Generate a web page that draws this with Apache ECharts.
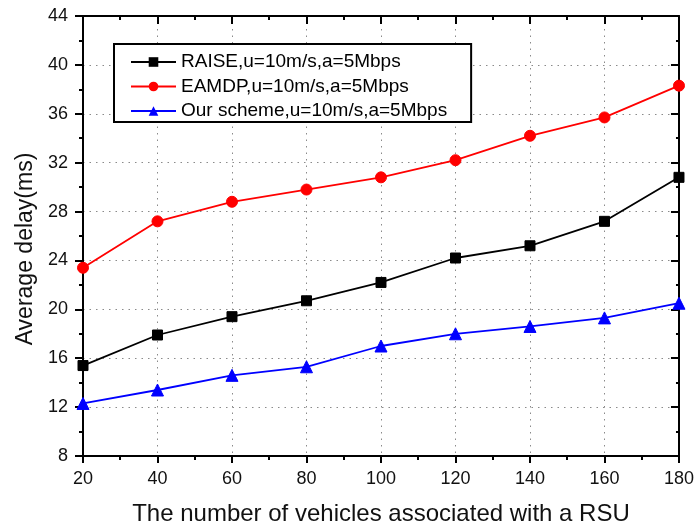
<!DOCTYPE html>
<html>
<head>
<meta charset="utf-8">
<script src="https://cdn.jsdelivr.net/npm/echarts@6/dist/echarts.min.js"></script>
<style>
  html, body { margin: 0; padding: 0; background: #fff; }
  #chart { width: 697px; height: 531px; }
</style>
</head>
<body>
<div id="chart"></div>
<script>
// Number of vehicles associated with one RSU
const vehicles = [20, 40, 60, 80, 100, 120, 140, 160, 180];

// Average delay (ms) per scheme
const raiseDelay = [15.4, 17.9, 19.4, 20.7, 22.2, 24.2, 25.2, 27.2, 30.8];
const eamdpDelay = [23.4, 27.2, 28.8, 29.8, 30.8, 32.2, 34.2, 35.7, 38.3];
const oursDelay  = [12.3, 13.4, 14.6, 15.3, 17.0, 18.0, 18.6, 19.3, 20.5];

const seriesNames = [
  'RAISE,u=10m/s,a=5Mbps',
  'EAMDP,u=10m/s,a=5Mbps',
  'Our scheme,u=10m/s,a=5Mbps'
];

const FONT = '"Liberation Sans", Arial, Helvetica, sans-serif';
const pairs = ys => vehicles.map((x, i) => [x, ys[i]]);

const chart = echarts.init(document.getElementById('chart'), null, { renderer: 'canvas' });

const axisLine = { show: true, lineStyle: { color: '#000', width: 2 } };
const gridDots = { show: true, lineStyle: { color: '#8a8a8a', width: 1, type: [1.5, 5] } };

function makeSeries(name, ys, color, symbol, size) {
  return {
    name: name,
    type: 'line',
    data: pairs(ys),
    xAxisIndex: 0,
    yAxisIndex: 0,
    symbol: symbol,
    symbolSize: size,
    showAllSymbol: true,
    clip: true,
    lineStyle: { color: color, width: 1.8 },
    itemStyle: { color: color, borderColor: color },
    emphasis: { disabled: true },
    animation: false
  };
}

chart.setOption({
  backgroundColor: '#fff',
  animation: false,
  textStyle: { fontFamily: FONT },
  grid: { left: 83, right: 17, top: 16, bottom: 73, containLabel: false },
  legend: {
    orient: 'vertical',
    left: 114,
    top: 44,
    padding: [8, 24, 1, 16],
    itemGap: 4.5,
    itemWidth: 45,
    itemHeight: 12,
    borderColor: '#000',
    borderWidth: 2,
    backgroundColor: '#fff',
    textStyle: { fontFamily: FONT, fontSize: 19, color: '#000', lineHeight: 20 },
    data: seriesNames
  },
  xAxis: [
    {
      type: 'value',
      position: 'bottom',
      min: 20, max: 180, interval: 20,
      name: 'The number of vehicles associated with a RSU',
      nameLocation: 'middle',
      nameGap: 46,
      nameTextStyle: { fontFamily: FONT, fontSize: 24, color: '#111' },
      axisLine: axisLine,
      axisTick: { show: true, inside: false, length: 7, lineStyle: { color: '#000', width: 2 } },
      minorTick: { show: true, splitNumber: 2, length: 4, lineStyle: { color: '#000', width: 2 } },
      axisLabel: { margin: 14, fontFamily: FONT, fontSize: 18, color: '#111' },
      splitLine: gridDots
    },
    {
      type: 'value',
      position: 'top',
      min: 20, max: 180, interval: 20,
      axisLine: axisLine,
      axisTick: { show: true, inside: true, length: 8, lineStyle: { color: '#000', width: 2 } },
      minorTick: { show: true, splitNumber: 2, length: 4, lineStyle: { color: '#000', width: 2 } },
      axisLabel: { show: false },
      splitLine: { show: false }
    }
  ],
  yAxis: [
    {
      type: 'value',
      position: 'left',
      min: 8, max: 44, interval: 4,
      name: 'Average delay(ms)',
      nameLocation: 'middle',
      nameGap: 46,
      nameTextStyle: { fontFamily: FONT, fontSize: 23, color: '#111', padding: [0, 26, 0, 0] },
      axisLine: axisLine,
      axisTick: { show: true, inside: false, length: 8, lineStyle: { color: '#000', width: 2 } },
      minorTick: { show: true, splitNumber: 2, length: 4, lineStyle: { color: '#000', width: 2 } },
      axisLabel: { margin: 15, fontFamily: FONT, fontSize: 18, color: '#111' },
      splitLine: gridDots
    },
    {
      type: 'value',
      position: 'right',
      min: 8, max: 44, interval: 4,
      axisLine: axisLine,
      axisTick: { show: true, inside: true, length: 8, lineStyle: { color: '#000', width: 2 } },
      minorTick: { show: true, splitNumber: 2, length: 3, lineStyle: { color: '#000', width: 2 } },
      axisLabel: { show: false },
      splitLine: { show: false }
    }
  ],
  series: [
    makeSeries(seriesNames[0], raiseDelay, '#000000', 'rect', 10),
    makeSeries(seriesNames[1], eamdpDelay, '#ff0000', 'circle', 11),
    makeSeries(seriesNames[2], oursDelay, '#0000ff', 'triangle', 12)
  ]
});
</script>
</body>
</html>
